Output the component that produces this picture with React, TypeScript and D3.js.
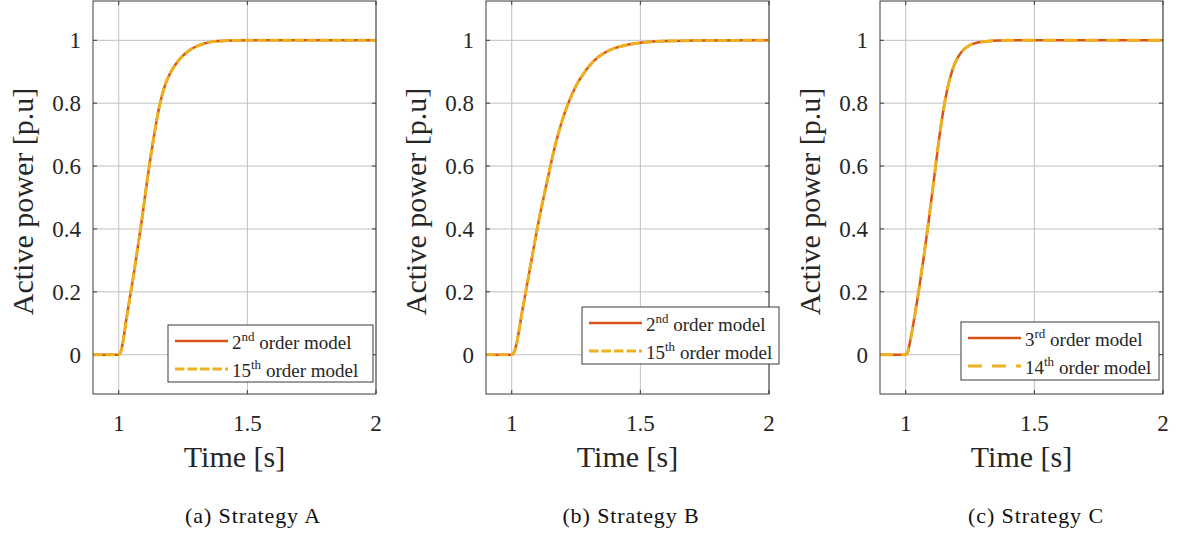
import React from "react";
import * as d3 from "d3";

// ---------- data ----------
const xTicks = [1, 1.5, 2];
const yTicks = [0, 0.2, 0.4, 0.6, 0.8, 1];

const timeA = [0.9, 1.0, 1.01, 1.02, 1.03, 1.04, 1.05, 1.06, 1.07, 1.08, 1.09, 1.1, 1.11, 1.12, 1.13, 1.14, 1.15, 1.16, 1.17, 1.18, 1.19, 1.2, 1.22, 1.24, 1.26, 1.28, 1.3, 1.33, 1.36, 1.4, 1.45, 1.5, 2.0];
const powerA2nd = [0, 0, 0.015, 0.06, 0.115, 0.165, 0.215, 0.265, 0.32, 0.375, 0.43, 0.49, 0.55, 0.607, 0.66, 0.71, 0.757, 0.797, 0.83, 0.857, 0.878, 0.895, 0.922, 0.943, 0.959, 0.971, 0.98, 0.989, 0.995, 0.998, 0.9995, 1, 1];
const powerA15th = [0, 0, 0.014, 0.058, 0.113, 0.164, 0.214, 0.265, 0.32, 0.376, 0.431, 0.49, 0.551, 0.608, 0.661, 0.711, 0.757, 0.797, 0.83, 0.857, 0.878, 0.895, 0.922, 0.943, 0.959, 0.971, 0.98, 0.989, 0.995, 0.998, 0.9995, 1, 1];

const timeB = [0.9, 1.0, 1.01, 1.02, 1.03, 1.04, 1.05, 1.06, 1.08, 1.1, 1.12, 1.14, 1.16, 1.18, 1.2, 1.22, 1.25, 1.28, 1.32, 1.36, 1.4, 1.45, 1.5, 1.55, 1.6, 1.7, 2.0];
const powerB2nd = [0, 0, 0.01, 0.04, 0.085, 0.135, 0.18, 0.225, 0.315, 0.405, 0.485, 0.56, 0.635, 0.7, 0.755, 0.8, 0.855, 0.895, 0.935, 0.96, 0.975, 0.986, 0.992, 0.996, 0.998, 0.999, 1];
const powerB15th = [0, 0, 0.009, 0.039, 0.084, 0.134, 0.18, 0.225, 0.315, 0.405, 0.486, 0.561, 0.636, 0.7, 0.755, 0.8, 0.855, 0.895, 0.935, 0.96, 0.975, 0.986, 0.992, 0.996, 0.998, 0.999, 1];

const timeC = [0.9, 1.0, 1.005, 1.01, 1.02, 1.03, 1.04, 1.05, 1.06, 1.07, 1.08, 1.09, 1.1, 1.11, 1.12, 1.13, 1.14, 1.15, 1.16, 1.18, 1.2, 1.22, 1.25, 1.28, 1.32, 1.36, 1.4, 2.0];
const powerC3rd = [0, 0, 0.003, 0.015, 0.055, 0.1, 0.15, 0.2, 0.255, 0.31, 0.37, 0.43, 0.495, 0.56, 0.625, 0.688, 0.745, 0.795, 0.838, 0.902, 0.942, 0.966, 0.985, 0.993, 0.997, 0.999, 1, 1];
const powerC14th = [0, 0, 0.003, 0.014, 0.054, 0.1, 0.15, 0.2, 0.256, 0.311, 0.371, 0.431, 0.496, 0.561, 0.626, 0.688, 0.745, 0.795, 0.838, 0.902, 0.942, 0.966, 0.985, 0.993, 0.997, 0.999, 1, 1];

const legendA = ["2", "nd", "15", "th"];
const legendB = ["2", "nd", "15", "th"];
const legendC = ["3", "rd", "14", "th"];
const captions = ["(a) Strategy A", "(b) Strategy B", "(c) Strategy C"];

// ---------- styling / layout ----------
const RED = "#D95319";
const YELLOW = "#EDB120";
const TEXT = "#262626";
const AXIS = "#3a3a3a";
const GRID = "#c0c0c0";
const SERIF = "'Liberation Serif', 'Times New Roman', serif";

const W = 283;
const TOP = 1;
const BOTTOM = 394;

type Panel = {
  left: number;
  t: number[];
  a: number[];
  b: number[];
  leg: string[];
  bDash: string;
  legDash: string;
  legBox: [number, number, number, number];
  ylabX: number;
  capX: number;
};

const panels: Panel[] = [
  { left: 93, t: timeA, a: powerA2nd, b: powerA15th, leg: legendA, bDash: "9.5 3", legDash: "9.5 3", legBox: [168, 325, 205, 57], ylabX: 33, capX: 253 },
  { left: 486, t: timeB, a: powerB2nd, b: powerB15th, leg: legendB, bDash: "9.5 3", legDash: "9.5 3", legBox: [582, 307, 197, 57], ylabX: 426, capX: 631 },
  { left: 880, t: timeC, a: powerC3rd, b: powerC14th, leg: legendC, bDash: "13 8", legDash: "14 10", legBox: [961, 322, 198, 58], ylabX: 820, capX: 1036 },
];

function PanelView({ p, idx }: { p: Panel; idx: number }) {
  const x = d3.scaleLinear().domain([0.9, 2]).range([p.left, p.left + W]);
  const y = d3.scaleLinear().domain([-0.125, 1.125]).range([BOTTOM, TOP]);
  const line = d3
    .line<number>()
    .x((_, i) => x(p.t[i]))
    .y((v) => y(v))
    .curve(d3.curveMonotoneX);
  const clipId = `clip${idx}`;
  const [lx, ly, lw, lh] = p.legBox;
  const row1 = ly + 16;
  const row2 = ly + 44;
  const tick = 4;
  return (
    <g>
      <defs>
        <clipPath id={clipId}>
          <rect x={p.left} y={TOP} width={W} height={BOTTOM - TOP} />
        </clipPath>
      </defs>
      <rect x={p.left} y={TOP} width={W} height={BOTTOM - TOP} fill="#fff" />
      {xTicks.map((v) => (
        <line key={"gx" + v} x1={x(v)} x2={x(v)} y1={TOP} y2={BOTTOM} stroke={GRID} strokeWidth={1} />
      ))}
      {yTicks.map((v) => (
        <line key={"gy" + v} x1={p.left} x2={p.left + W} y1={y(v)} y2={y(v)} stroke={GRID} strokeWidth={1} />
      ))}
      {xTicks.map((v) => (
        <g key={"tx" + v}>
          <line x1={x(v)} x2={x(v)} y1={BOTTOM} y2={BOTTOM - tick} stroke={AXIS} />
          <line x1={x(v)} x2={x(v)} y1={TOP} y2={TOP + tick} stroke={AXIS} />
          <text x={x(v)} y={431} textAnchor="middle" style={{ fontFamily: SERIF }} fontSize={23} fill={TEXT}>
            {v}
          </text>
        </g>
      ))}
      {yTicks.map((v) => (
        <g key={"ty" + v}>
          <line x1={p.left} x2={p.left + tick} y1={y(v)} y2={y(v)} stroke={AXIS} />
          <line x1={p.left + W} x2={p.left + W - tick} y1={y(v)} y2={y(v)} stroke={AXIS} />
          <text x={p.left - 12} y={y(v) + 8} textAnchor="end" style={{ fontFamily: SERIF }} fontSize={23} fill={TEXT}>
            {v}
          </text>
        </g>
      ))}
      <g clipPath={`url(#${clipId})`}>
        <path d={line(p.a) || ""} fill="none" stroke={RED} strokeWidth={2.5} />
        <path d={line(p.b) || ""} fill="none" stroke={YELLOW} strokeWidth={3} strokeDasharray={p.bDash} />
      </g>
      <rect x={p.left} y={TOP} width={W} height={BOTTOM - TOP} fill="none" stroke={AXIS} strokeWidth={1} />
      {/* legend */}
      <rect x={lx} y={ly} width={lw} height={lh} fill="#fff" stroke={AXIS} strokeWidth={1} />
      <line x1={lx + 7} x2={lx + 60} y1={row1} y2={row1} stroke={RED} strokeWidth={2.5} />
      <line x1={lx + 7} x2={lx + 60} y1={row2} y2={row2} stroke={YELLOW} strokeWidth={3} strokeDasharray={p.legDash} />
      <text x={lx + 64} y={row1 + 8} style={{ fontFamily: SERIF }} fontSize={19} fill={TEXT}>
        {p.leg[0]}
        <tspan fontSize={13} dy={-8}>{p.leg[1]}</tspan>
        <tspan dy={8}> order model</tspan>
      </text>
      <text x={lx + 64} y={row2 + 8} style={{ fontFamily: SERIF }} fontSize={19} fill={TEXT}>
        {p.leg[2]}
        <tspan fontSize={13} dy={-8}>{p.leg[3]}</tspan>
        <tspan dy={8}> order model</tspan>
      </text>
      {/* axis labels */}
      <text x={p.left + W / 2} y={467} textAnchor="middle" style={{ fontFamily: SERIF }} fontSize={30} fill={TEXT}>
        Time [s]
      </text>
      <text
        transform={`translate(${p.ylabX},${(TOP + BOTTOM) / 2 + 4}) rotate(-90)`}
        textAnchor="middle"
        style={{ fontFamily: SERIF }}
        fontSize={30}
        fill={TEXT}
      >
        Active power [p.u]
      </text>
      <text
        x={p.capX}
        y={523}
        textAnchor="middle"
        style={{ fontFamily: SERIF, letterSpacing: "0.9px" }}
        fontSize={22}
        fill="#111"
      >
        {captions[idx]}
      </text>
    </g>
  );
}

export default function App() {
  return (
    <svg
      width={1179}
      height={536}
      style={{ position: "absolute", left: 0, top: 0, background: "#fff" }}
    >
      <rect x={0} y={0} width={1179} height={536} fill="#fff" />
      {panels.map((p, i) => (
        <PanelView key={i} p={p} idx={i} />
      ))}
    </svg>
  );
}
